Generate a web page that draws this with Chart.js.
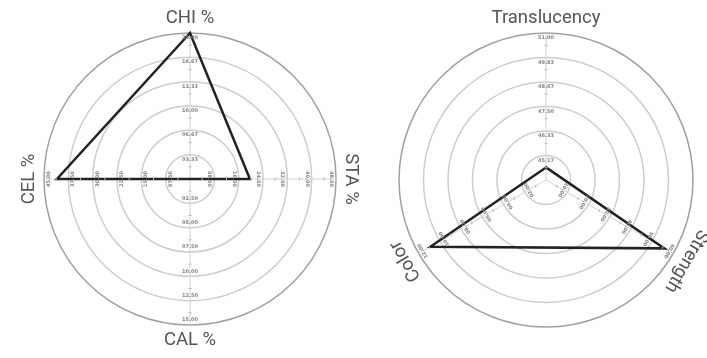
<!DOCTYPE html>
<html>
<head>
<meta charset="utf-8">
<script src="https://cdn.jsdelivr.net/npm/chart.js@4/dist/chart.umd.min.js"></script>
<style>
  html, body { margin: 0; padding: 0; background: #fff; }
  #wrap { position: relative; width: 707px; height: 358px; }
  .pane { position: absolute; top: 0; height: 358px; }
  #paneL { left: 0; width: 380px; }
  #paneR { left: 380px; width: 327px; }
</style>
</head>
<body>
<div id="wrap">
  <div class="pane" id="paneL"><canvas id="radarL"></canvas></div>
  <div class="pane" id="paneR"><canvas id="radarR"></canvas></div>
</div>
<script>
// Composition radar (left): each spoke has its own range
const compAxes   = ['CHI %', 'STA %', 'CAL %', 'CEL %'];
const compValues = [20.0, 19.7, 0.0, 41.0];
const compMin    = [0, 0, 0, 0];
const compMax    = [20, 48, 15, 45];
const compTicks  = [
  ['03.33', '06.67', '10.00', '13.33', '16.67', '20.00'],
  ['08.00', '16.00', '24.00', '32.00', '40.00', '48.00'],
  ['02.50', '05.00', '07.50', '10.00', '12.50', '15.00'],
  ['07.50', '15.00', '22.50', '30.00', '37.50', '45.00']
];

// Property radar (right)
const propAxes   = ['Translucency', 'Strength', 'Color'];
const propValues = [44.6, 55.8, 10.9];
const propMin    = [44, 0, 0];
const propMax    = [51, 60, 12];
const propTicks  = [
  ['45.17', '46.33', '47.50', '48.67', '49.83', '51.00'],
  ['10.00', '20.00', '30.00', '40.00', '50.00', '60.00'],
  ['02.00', '04.00', '06.00', '08.00', '10.00', '12.00']
];

const RINGS = 6;

// map a value on its own spoke range onto the shared ring scale
function toRing(v, lo, hi) { return (v - lo) / (hi - lo) * RINGS; }

// tangential rotation of a spoke, keeping the bottom spoke upright
function spokeRotation(scale, i) {
  const n = scale._pointLabels.length;
  let deg = 360 * i / n;
  if (Math.abs(deg - 180) < 0.01) deg = 0;
  if (deg > 180) deg -= 360;
  return deg * Math.PI / 180;
}

const spokeLabels = {
  id: 'spokeLabels',
  afterDatasetsDraw(chart, args, opts) {
    const scale = chart.scales.r;
    const ctx = chart.ctx;
    ctx.save();
    // small marks half-way between rings on each spoke
    ctx.strokeStyle = '#b8b8b8';
    ctx.lineWidth = 1;
    opts.ticks.forEach((list, i) => {
      const rot = spokeRotation(scale, i);
      for (let k = 0; k < RINGS; k++) {
        const p = scale.getPointPositionForValue(i, k + 0.5);
        ctx.save();
        ctx.translate(p.x, p.y);
        ctx.rotate(rot);
        ctx.beginPath();
        ctx.moveTo(-1.5, 0);
        ctx.lineTo(1.5, 0);
        ctx.stroke();
        ctx.restore();
      }
    });
    // per-spoke tick labels, just inside each ring
    ctx.font = 'bold 5px "DejaVu Sans"';
    ctx.fillStyle = '#808080';
    ctx.textAlign = 'center';
    ctx.textBaseline = 'middle';
    opts.ticks.forEach((list, i) => {
      const rot = spokeRotation(scale, i);
      list.forEach((txt, k) => {
        const p = scale.getPointPositionForValue(i, k + 1 - 0.2);
        ctx.save();
        ctx.translate(p.x, p.y);
        ctx.rotate(rot);
        ctx.fillText(txt, 0, 0);
        ctx.restore();
      });
    });
    // spoke titles outside the outer ring
    ctx.font = '18.5px Roboto';
    ctx.fillStyle = '#555';
    opts.titles.forEach((txt, i) => {
      const p = scale.getPointPosition(i, scale.drawingArea + 15);
      ctx.save();
      ctx.translate(p.x, p.y);
      ctx.rotate(spokeRotation(scale, i));
      ctx.fillText(txt, 0, 0);
      ctx.restore();
    });
    ctx.restore();
  }
};

function radarConfig(axes, values, mins, maxs, ticks, padding) {
  return {
    type: 'radar',
    data: {
      labels: axes,
      datasets: [{
        data: values.map((v, i) => toRing(v, mins[i], maxs[i])),
        borderColor: '#222',
        borderWidth: 2.5,
        borderJoinStyle: 'miter',
        backgroundColor: 'rgba(0,0,0,0)',
        fill: false,
        pointRadius: 0,
        clip: false
      }]
    },
    options: {
      responsive: false,
      animation: false,
      layout: { padding },
      plugins: {
        legend: { display: false },
        tooltip: { enabled: false },
        spokeLabels: { ticks, titles: axes }
      },
      scales: {
        r: {
          min: 0,
          max: RINGS,
          ticks: { display: false, stepSize: 1 },
          pointLabels: { display: false },
          grid: {
            circular: true,
            color: c => c.tick && c.tick.value === RINGS ? '#a0a0a0' : '#cdcdcd',
            lineWidth: 1.5
          },
          angleLines: { display: true, color: '#d2d2d2', lineWidth: 1 }
        }
      }
    },
    plugins: [spokeLabels]
  };
}

const cl = document.getElementById('radarL');
cl.width = 380; cl.height = 358;
new Chart(cl, radarConfig(compAxes, compValues, compMin, compMax, compTicks,
  { left: 44, right: 44, top: 33, bottom: 33 }));

const cr = document.getElementById('radarR');
cr.width = 327; cr.height = 358;
new Chart(cr, radarConfig(propAxes, propValues, propMin, propMax, propTicks,
  { left: 19, right: 14, top: 33, bottom: 31 }));
</script>
</body>
</html>
